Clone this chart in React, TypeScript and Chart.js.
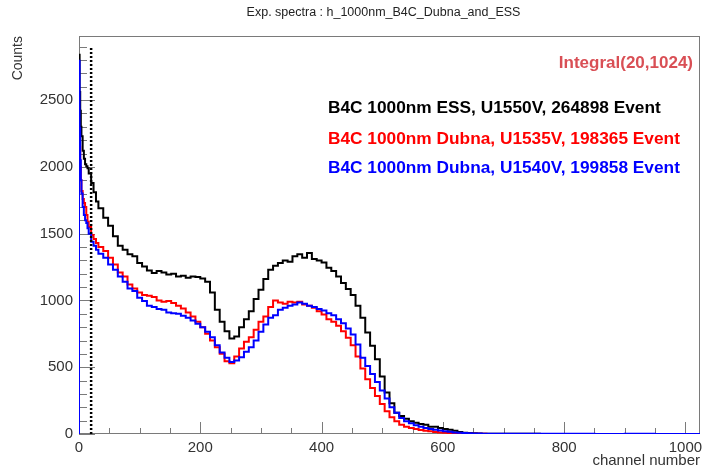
import React, { useEffect, useRef } from 'react';
import { Chart, registerables } from 'chart.js';

Chart.register(...registerables);

const FONT = '"Liberation Sans", Arial, Helvetica, sans-serif';

const chartTitle = 'Exp. spectra : h_1000nm_B4C_Dubna_and_ESS';
const xAxisTitle = 'channel number';
const yAxisTitle = 'Counts';
const integralLabel = 'Integral(20,1024)';
const integralStart = 20;
const integralMarkerTop = 2900;
const seriesLabels = [
  'B4C 1000nm ESS, U1550V, 264898 Event',
  'B4C 1000nm Dubna, U1535V, 198365 Event',
  'B4C 1000nm Dubna, U1540V, 199858 Event',
];
const seriesColors = ['#000000', '#ff0000', '#0000ff'];

const xMax = 1024;
const yMax = 2980;
const xTickValues = [0, 200, 400, 600, 800, 1000];
const yTickValues = [0, 500, 1000, 1500, 2000, 2500];

// bin low edges (channel number)
const channels = [
  0, 1, 2, 3, 4, 6, 8, 10, 12, 14, 16, 20, 24, 28,
  32, 40, 48, 56, 64, 72, 80, 88, 96, 104, 112, 120, 128, 136, 144, 152,
  160, 168, 176, 184, 192, 200, 208, 216, 224, 232, 240, 248, 256, 264, 272,
  280, 288, 296, 304, 312, 320, 328, 336, 344, 352, 360, 368, 376, 384, 392,
  400, 408, 416, 424, 432, 440, 448, 456, 464, 472, 480, 488, 496, 504, 512,
  520, 528, 536, 544, 552, 560, 568, 576, 584, 592, 600, 608, 616, 624, 632,
  640, 648, 656, 664, 672, 680, 720, 760, 800, 850, 900, 950, 1024,
];

const essU1550 = [
  2840, 2560, 2420, 2300, 2230, 2120, 2060, 2020, 2005, 1990, 1950, 1880, 1810, 1740,
  1690, 1620, 1560, 1480, 1410, 1380, 1345, 1330, 1280, 1255, 1225, 1205, 1220, 1210, 1195, 1200,
  1180, 1185, 1170, 1180, 1175, 1165, 1140, 1060, 930, 840, 770, 715, 730, 800, 860,
  920, 1010, 1080, 1160, 1230, 1260, 1280, 1300, 1290, 1330, 1345, 1320, 1355, 1310, 1300,
  1285, 1245, 1220, 1180, 1130, 1085, 1040, 960, 870, 760, 660, 560, 430, 310, 230,
  160, 135, 115, 95, 85, 75, 70, 55, 55, 45, 38, 32, 25, 15, 10,
  7, 5, 3, 2, 2, 1, 1, 0, 0, 0, 0, 0, 0,
];

const dubnaU1535 = [
  2255, 2150, 2000, 1900, 1820, 1760, 1730, 1700, 1640, 1590, 1550, 1490, 1460, 1430,
  1400, 1370, 1320, 1270, 1210, 1180, 1120, 1090, 1060, 1040, 1035, 1025, 1000, 990, 995, 980,
  960, 940, 910, 880, 840, 800, 750, 700, 650, 600, 545, 530, 580, 640, 690,
  725, 780, 840, 880, 950, 1000, 985, 975, 990, 985, 990, 970, 960, 945, 920,
  895, 860, 840, 810, 770, 720, 665, 580, 490, 410, 345, 285, 225, 170, 125,
  95, 70, 55, 45, 38, 30, 25, 20, 15, 12, 10, 8, 6, 4, 3,
  2, 2, 1, 1, 0, 0, 0, 0, 0, 0, 0, 0, 0,
];

const dubnaU1540 = [
  2795, 2290, 2050, 1900, 1800, 1700, 1640, 1600, 1580, 1540, 1500, 1440, 1410, 1380,
  1350, 1320, 1270, 1230, 1180, 1140, 1090, 1070, 1020, 995, 960, 950, 935, 930, 910, 905,
  900, 885, 870, 850, 825, 800, 765, 725, 665, 610, 570, 540, 550, 575, 615,
  650, 700, 765, 820, 870, 890, 930, 945, 960, 970, 985, 975, 960, 950, 935,
  925, 905, 890, 860, 830, 790, 745, 670, 570, 510, 450, 390, 325, 265, 200,
  160, 120, 95, 80, 65, 55, 45, 38, 32, 26, 20, 16, 12, 9, 7,
  5, 4, 3, 2, 2, 1, 1, 1, 1, 0, 1, 0, 0,
];

function histPoints(values: number[]) {
  return [{ x: channels[0], y: 0 }, ...channels.map((c, i) => ({ x: c, y: values[i] }))];
}

const framePlugin = {
  id: 'rootFrame',
  beforeDatasetsDraw(chart: any) {
    const { ctx, chartArea: a, scales } = chart;
    const x = scales.x;
    const y = scales.y;
    ctx.save();
    ctx.strokeStyle = '#7a7a7a';
    ctx.lineWidth = 1;
    ctx.beginPath();
    for (let v = 0; v <= xMax; v += 50) {
      const px = Math.round(x.getPixelForValue(v)) + 0.5;
      const len = v % 200 === 0 ? 12 : 6;
      ctx.moveTo(px, a.bottom);
      ctx.lineTo(px, a.bottom - len);
    }
    for (let v = 0; v <= yMax; v += 100) {
      const py = Math.round(y.getPixelForValue(v)) + 0.5;
      const len = v % 500 === 0 ? 16 : 8;
      ctx.moveTo(a.left, py);
      ctx.lineTo(a.left + len, py);
    }
    ctx.stroke();
    ctx.strokeRect(Math.round(a.left) + 0.5, Math.round(a.top) + 0.5, Math.round(a.right - a.left) - 1, Math.round(a.bottom - a.top) - 1);
    ctx.restore();
  },
};

const textPlugin = {
  id: 'rootText',
  afterDraw(chart: any) {
    const { ctx, chartArea: a } = chart;
    ctx.save();
    ctx.textBaseline = 'middle';
    ctx.font = `12.5px ${FONT}`;
    ctx.fillStyle = '#222222';
    ctx.textAlign = 'center';
    ctx.fillText(chartTitle, (a.left + a.right) / 2 - 6, 13);

    ctx.font = `bold 17px ${FONT}`;
    ctx.textAlign = 'right';
    ctx.fillStyle = '#d94f55';
    ctx.fillText(integralLabel, a.right - 7, a.top + 27);

    ctx.font = `bold 17.3px ${FONT}`;
    ctx.textAlign = 'left';
    const offsets = [72, 103, 132];
    seriesLabels.forEach((t, i) => {
      ctx.fillStyle = seriesColors[i];
      ctx.fillText(t, a.left + 249, a.top + offsets[i]);
    });
    ctx.restore();
  },
};

export default function App() {
  const canvasRef = useRef<HTMLCanvasElement | null>(null);

  useEffect(() => {
    const canvas = canvasRef.current;
    if (!canvas) return;
    const common = { pointRadius: 0, borderWidth: 2, stepped: 'before' as const, fill: false };
    const chart = new Chart(canvas, {
      type: 'line',
      data: {
        datasets: [
          {
            label: 'integral start',
            data: [
              { x: integralStart, y: 0 },
              { x: integralStart, y: integralMarkerTop },
            ],
            borderColor: '#000000',
            borderWidth: 2.5,
            borderDash: [2, 2],
            pointRadius: 0,
            fill: false,
            order: 0,
          },
          { label: seriesLabels[2], data: histPoints(dubnaU1540), borderColor: seriesColors[2], order: 1, ...common },
          { label: seriesLabels[1], data: histPoints(dubnaU1535), borderColor: seriesColors[1], order: 2, ...common },
          { label: seriesLabels[0], data: histPoints(essU1550), borderColor: seriesColors[0], order: 3, ...common },
        ],
      },
      options: {
        animation: false,
        responsive: false,
        devicePixelRatio: 1,
        events: [],
        layout: { padding: { left: 0, right: 6, top: 36, bottom: 0 } },
        plugins: { legend: { display: false }, tooltip: { enabled: false }, title: { display: false } },
        scales: {
          x: {
            type: 'linear',
            min: 0,
            max: xMax,
            grid: { display: false, drawTicks: false },
            border: { display: false },
            afterBuildTicks(scale: any) {
              scale.ticks = xTickValues.map((v) => ({ value: v }));
            },
            ticks: {
              maxRotation: 0,
              autoSkip: false,
              padding: 5,
              color: '#333333',
              font: { family: FONT, size: 15 },
              callback: (v: any) => String(v),
            },
            title: {
              display: true,
              text: xAxisTitle,
              align: 'end',
              color: '#333333',
              font: { family: FONT, size: 15 },
              padding: { top: 0, bottom: 0 },
            },
            afterFit(scale: any) {
              scale.height = 36;
              scale.paddingLeft = 0;
              scale.paddingRight = 0;
            },
          },
          y: {
            type: 'linear',
            min: 0,
            max: yMax,
            grid: { display: false, drawTicks: false },
            border: { display: false },
            afterBuildTicks(scale: any) {
              scale.ticks = yTickValues.map((v) => ({ value: v }));
            },
            ticks: {
              padding: 6,
              color: '#333333',
              font: { family: FONT, size: 15 },
              callback: (v: any) => String(v),
            },
            title: {
              display: true,
              text: yAxisTitle,
              align: 'end',
              color: '#333333',
              font: { family: FONT, size: 14 },
              padding: { top: 10, bottom: 0 },
            },
            afterFit(scale: any) {
              scale.width = 79;
              scale.paddingTop = 0;
              scale.paddingBottom = 0;
            },
          },
        },
      },
      plugins: [framePlugin, textPlugin],
    });
    return () => chart.destroy();
  }, []);

  return (
    <div style={{ position: 'absolute', left: 0, top: 0, width: 706, height: 470, background: '#ffffff' }}>
      <canvas ref={canvasRef} width={706} height={470} />
    </div>
  );
}
